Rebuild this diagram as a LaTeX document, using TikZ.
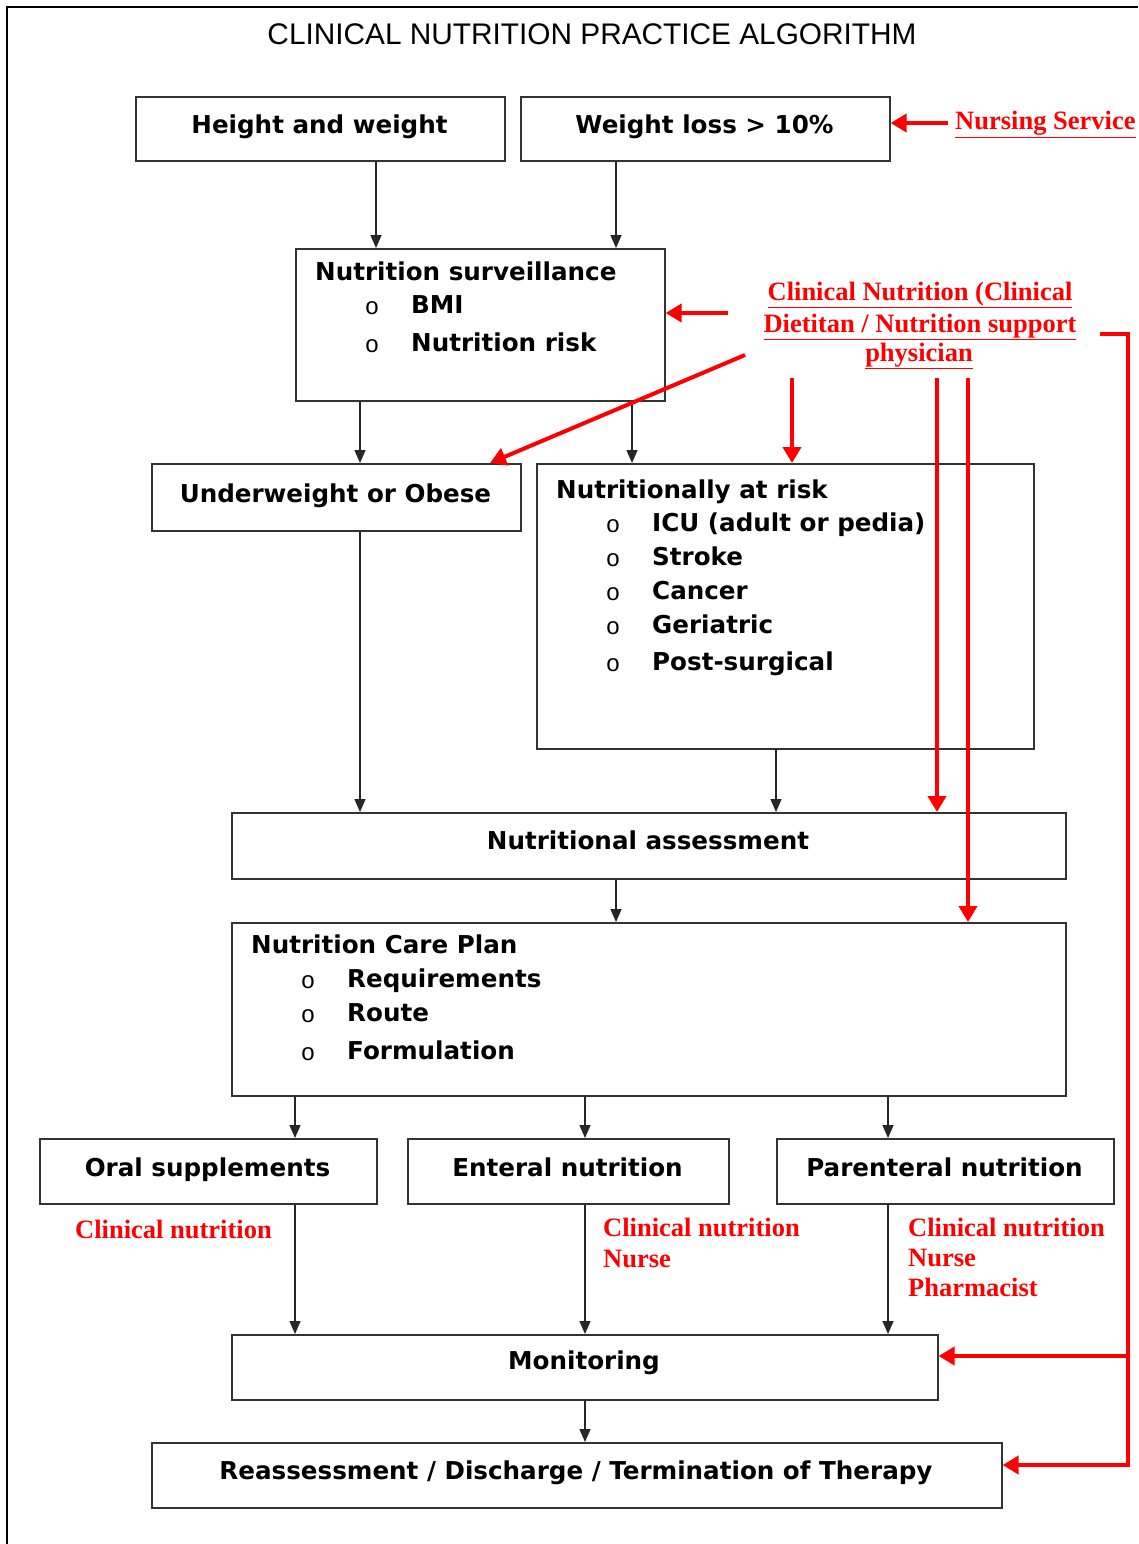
\documentclass[tikz,border=0pt]{standalone}
\usepackage{fontspec}
\setmainfont{DejaVu Sans}
\newfontfamily\titlefont{Liberation Sans}
\newfontfamily\redfont{Liberation Serif}
\newfontfamily\bulletfont{Liberation Mono}
\usetikzlibrary{arrows.meta}
\tikzset{
  box/.style={draw=black!80, line width=1.6pt, fill=white, inner sep=0pt, anchor=north west},
  lbl/.style={font=\fontsize{24.6}{28}\selectfont\bfseries, inner sep=0pt, anchor=base},
  lblw/.style={lbl, anchor=base west},
  bul/.style={font=\bulletfont\fontsize{24}{24}\selectfont, inner sep=0pt, anchor=center},
  rtxt/.style={text=red, font=\redfont\fontsize{26.5}{30}\selectfont\bfseries, inner sep=0pt, anchor=base west},
  arr/.style={-{Triangle[length=13pt,width=11pt]}, line width=1.4pt, black!85},
  rarr/.style={-{Triangle[length=16pt,width=18pt]}, line width=4pt, red, line join=miter},
}
\begin{document}
\begin{tikzpicture}[x=1pt,y=-1pt]
\useasboundingbox (0,0) rectangle (1138,1544);
% frame
\coordinate (fbl) at (7,1544);
\coordinate (ftl) at (7,7);
\coordinate (ftr) at (1138,7);
\draw[line width=2pt, black] (fbl) -- (ftl) -- (ftr);
\node[font=\titlefont\fontsize{29.8}{32}\selectfont, inner sep=0pt, anchor=base] (title) at (592,45) {CLINICAL NUTRITION PRACTICE ALGORITHM};

% boxes
\node[box, minimum width=369pt, minimum height=64pt] (hw) at (135,96) {};
\node[box, minimum width=369pt, minimum height=64pt] (wl) at (520,96) {};
\node[box, minimum width=369pt, minimum height=152pt] (sv) at (295,248) {};
\node[box, minimum width=369pt, minimum height=67pt] (uw) at (151,463) {};
\node[box, minimum width=497pt, minimum height=285pt] (risk) at (536,463) {};
\node[box, minimum width=834pt, minimum height=66pt] (asmt) at (231,812) {};
\node[box, minimum width=834pt, minimum height=173pt] (plan) at (231,922) {};
\node[box, minimum width=337pt, minimum height=65pt] (oral) at (39,1138) {};
\node[box, minimum width=321pt, minimum height=65pt] (ent) at (407,1138) {};
\node[box, minimum width=337pt, minimum height=65pt] (par) at (776,1138) {};
\node[box, minimum width=706pt, minimum height=65pt] (mon) at (231,1334) {};
\node[box, minimum width=850pt, minimum height=65pt] (rd) at (151,1442) {};

% texts
\node[lbl] (thw) at (319.5,133) {Height and weight};
\node[lbl] (twl) at (704.5,133) {Weight loss > 10\%};
\node[lblw] (tsv) at (315,280) {Nutrition surveillance};
\node[bul] (bs1) at (372,308) {o};
\node[bul] (bs2) at (372,346) {o};
\node[lblw] (tsv1) at (411,313) {BMI};
\node[lblw] (tsv2) at (411,351) {Nutrition risk};
\node[lbl] (tuw) at (335.5,502) {Underweight or Obese};
\node[lblw] (trisk) at (556,498) {Nutritionally at risk};
\node[bul] (br1) at (613,526) {o};
\node[bul] (br2) at (613,560) {o};
\node[bul] (br3) at (613,594) {o};
\node[bul] (br4) at (613,628) {o};
\node[bul] (br5) at (613,665) {o};
\node[lblw] (tr1) at (652,531) {ICU (adult or pedia)};
\node[lblw] (tr2) at (652,565) {Stroke};
\node[lblw] (tr3) at (652,599) {Cancer};
\node[lblw] (tr4) at (652,633) {Geriatric};
\node[lblw] (tr5) at (652,670) {Post-surgical};
\node[lbl] (tasmt) at (648,849) {Nutritional assessment};
\node[lblw] (tplan) at (251,953) {Nutrition Care Plan};
\node[bul] (bp1) at (308,982) {o};
\node[bul] (bp2) at (308,1016) {o};
\node[bul] (bp3) at (308,1054) {o};
\node[lblw] (tp1) at (347,987) {Requirements};
\node[lblw] (tp2) at (347,1021) {Route};
\node[lblw] (tp3) at (347,1059) {Formulation};
\node[lbl] (toral) at (207.5,1176) {Oral supplements};
\node[lbl] (tent) at (567.5,1176) {Enteral nutrition};
\node[lbl] (tpar) at (944.5,1176) {Parenteral nutrition};
\node[lbl] (tmon) at (584,1369) {Monitoring};
\node[lbl] (trd) at (576,1479) {Reassessment / Discharge / Termination of Therapy};

% red labels
\node[rtxt] (ns) at (955,130) {\underline{Nursing Service}};
\node[rtxt, anchor=base] (cn1) at (920,300) {\underline{Clinical Nutrition (Clinical}};
\node[rtxt, anchor=base] (cn2) at (920,332) {\underline{Dietitan / Nutrition support}};
\node[rtxt, anchor=base] (cn3) at (919,361) {\underline{physician}};
\node[rtxt] (lo) at (75,1238) {Clinical nutrition};
\node[rtxt] (le1) at (603,1236) {Clinical nutrition};
\node[rtxt] (le2) at (603,1267) {Nurse};
\node[rtxt] (lp1) at (908,1236) {Clinical nutrition};
\node[rtxt] (lp2) at (908,1266) {Nurse};
\node[rtxt] (lp3) at (908,1296) {Pharmacist};

% x positions for black connectors
\coordinate (x1) at (376,0);
\coordinate (x2) at (616,0);
\coordinate (x3) at (360,0);
\coordinate (x4) at (632,0);
\coordinate (x5) at (776,0);
\coordinate (x6) at (295,0);
\coordinate (x7) at (585,0);
\coordinate (x8) at (888,0);

\draw[arr] (hw.south -| x1) -- (sv.north -| x1);
\draw[arr] (wl.south -| x2) -- (sv.north -| x2);
\draw[arr] (sv.south -| x3) -- (uw.north -| x3);
\draw[arr] (sv.south -| x4) -- (risk.north -| x4);
\draw[arr] (uw.south -| x3) -- (asmt.north -| x3);
\draw[arr] (risk.south -| x5) -- (asmt.north -| x5);
\draw[arr] (asmt.south -| x2) -- (plan.north -| x2);
\draw[arr] (plan.south -| x6) -- (oral.north -| x6);
\draw[arr] (plan.south -| x7) -- (ent.north -| x7);
\draw[arr] (plan.south -| x8) -- (par.north -| x8);
\draw[arr] (oral.south -| x6) -- (mon.north -| x6);
\draw[arr] (ent.south -| x7) -- (mon.north -| x7);
\draw[arr] (par.south -| x8) -- (mon.north -| x8);
\draw[arr] (mon.south -| x7) -- (rd.north -| x7);

% red connectors
\coordinate (rn) at (948,123);
\draw[rarr] (rn) -- (rn -| wl.east);
\coordinate (r1) at (728,313);
\draw[rarr] (r1) -- (r1 -| sv.east);
\coordinate (r2) at (745,355);
\coordinate (xr2) at (490,0);
\draw[rarr] (r2) -- (uw.north -| xr2);
\coordinate (r3) at (792,378);
\draw[rarr] (r3) -- (r3 |- risk.north);
\coordinate (r4) at (937,378);
\draw[rarr] (r4) -- (r4 |- asmt.north);
\coordinate (r5) at (968,378);
\draw[rarr] (r5) -- (r5 |- plan.north);
\coordinate (r6) at (1100,334);
\coordinate (rc) at (1128,334);
\coordinate (ym) at (0,1356);
\coordinate (yr) at (0,1465);
\draw[rarr] (r6) -- (rc) -- (rc |- yr) -- (rd.east |- yr);
\draw[rarr] (rc |- ym) -- (mon.east |- ym);
\end{tikzpicture}
\end{document}
